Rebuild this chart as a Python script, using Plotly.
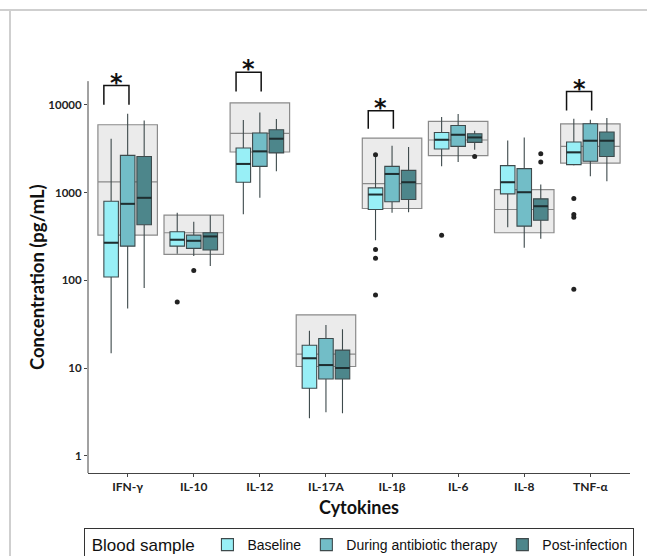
import math
import plotly.graph_objects as go

categories = ["IFN-γ", "IL-10", "IL-12", "IL-17A", "IL-1β", "IL-6", "IL-8", "TNF-α"]
groups = ["Baseline", "During antibiotic therapy", "Post-infection"]

# Baseline
base_lo = [14.7, 201, 567, 2.68, 286, 1990, 403, 2030]
base_q1 = [109, 245, 1310, 5.87, 641, 3140, 966, 2080]
base_med = [268, 290, 2120, 12.9, 949, 4000, 1310, 2870]
base_q3 = [796, 357, 3220, 18.2, 1130, 4840, 2030, 3770]
base_hi = [4110, 588, 6700, 26.5, 2650, 7250, 3930, 6930]

# During antibiotic therapy
dur_lo = [47.7, 189, 870, 3.14, 588, 2230, 235, 1530]
dur_q1 = [245, 231, 1990, 7.5, 784, 3360, 414, 2270]
dur_med = [744, 282, 2945, 10.8, 1630, 4560, 1008, 3900]
dur_q3 = [2655, 327, 4770, 21.7, 1990, 5820, 1875, 6080]
dur_hi = [7900, 464, 8170, 31, 3420, 7840, 4250, 6760]

# Post-infection
post_lo = [81.7, 145, 1746, 3.05, 597, 3080, 298, 1343]
post_q1 = [430, 221, 2830, 7.5, 832, 3730, 484, 2580]
post_med = [871, 316, 4110, 10, 1310, 4250, 698, 3900]
post_q3 = [2580, 348, 5200, 16, 1790, 4680, 848, 4900]
post_hi = [6630, 552, 6880, 27.7, 3300, 5070, 1233, 7060]

# Reference range (grey boxes)
ref_lo = [327, 197, 2900, 10.4, 658, 2630, 348, 2170]
ref_mid = [1324, 348, 4720, 14.4, 1265, 3970, 641, 3360]
ref_hi = [5930, 552, 10500, 40.4, 4180, 6460, 1080, 6080]

# Outliers
out_cat = ["IL-10", "IL-1β", "IL-1β", "IL-1β", "IL-1β", "IL-6", "TNF-α", "TNF-α", "TNF-α", "TNF-α",
           "IL-10", "IL-6", "IL-8", "IL-8"]
out_group = [0, 0, 0, 0, 0, 0, 0, 0, 0, 0, 1, 2, 2, 2]
out_val = [56.7, 2700, 225, 178, 68, 327, 855, 562, 524, 79, 129, 2580, 2775, 2230]

# Significance brackets
sig_cat = ["IFN-γ", "IL-12", "IL-1β", "TNF-α"]
sig_top = [16560, 23550, 8550, 14160]
sig_bottom = [10000, 14160, 5330, 8610]

colors = ["#98EFF6", "#72BDC7", "#4D868B"]
offsets = [-0.25, 0.0, 0.25]
box_w = 0.22
ref_w = 0.9

stats = [
    (base_lo, base_q1, base_med, base_q3, base_hi),
    (dur_lo, dur_q1, dur_med, dur_q3, dur_hi),
    (post_lo, post_q1, post_med, post_q3, post_hi),
]

idx = list(range(len(categories)))
fig = go.Figure()

# grey reference boxes
fig.add_trace(go.Box(
    x=idx, q1=ref_lo, median=ref_mid, q3=ref_hi, lowerfence=ref_lo, upperfence=ref_hi,
    width=ref_w, fillcolor="#EBEBEB", line=dict(color="#8A8A8A", width=1.2),
    whiskerwidth=0, boxpoints=False, showlegend=False, hoverinfo="skip",
))

for g, (lo, q1, med, q3, hi) in enumerate(stats):
    xs = [i + offsets[g] for i in idx]
    fig.add_trace(go.Box(
        x=xs, q1=q1, median=med, q3=q3, lowerfence=lo, upperfence=hi,
        width=box_w, fillcolor=colors[g], line=dict(color="#3E4A4C", width=1.1),
        whiskerwidth=0, boxpoints=False, name=groups[g], showlegend=True,
    ))
    # darker median lines
    mx, my = [], []
    for i in idx:
        mx += [xs[i] - box_w / 2, xs[i] + box_w / 2, None]
        my += [med[i], med[i], None]
    fig.add_trace(go.Scatter(x=mx, y=my, mode="lines", line=dict(color="#1E2E30", width=2),
                             showlegend=False, hoverinfo="skip"))

# outliers
fig.add_trace(go.Scatter(
    x=[categories.index(c) + offsets[g] for c, g in zip(out_cat, out_group)], y=out_val,
    mode="markers", marker=dict(color="#222222", size=5), showlegend=False, hoverinfo="skip",
))

# brackets
bx, by = [], []
for c, t, b in zip(sig_cat, sig_top, sig_bottom):
    i = categories.index(c)
    bx += [i - 0.36, i - 0.36, i + 0.02, i + 0.02, None]
    by += [b, t, t, b, None]
fig.add_trace(go.Scatter(x=bx, y=by, mode="lines", line=dict(color="#111111", width=1.5),
                         showlegend=False, hoverinfo="skip"))

annotations = []
for c, t in zip(sig_cat, sig_top):
    annotations.append(dict(
        x=categories.index(c) - 0.17, y=math.log10(t), xref="x", yref="y",
        text="*", showarrow=False, yanchor="middle", yshift=3,
        font=dict(family="DejaVu Sans", size=24, color="#111111", weight="bold"),
    ))

ymin, ymax = -0.197, 4.568
ytop_axis = 4.27

# y-axis title, centred on the visible axis line
annotations.append(dict(
    text="Concentration (pg/mL)", xref="paper", yref="paper",
    x=0, y=(ytop_axis - ymin) / (ymax - ymin) / 2, xanchor="right", yanchor="middle",
    xshift=-38, textangle=-90, showarrow=False,
    font=dict(family="Lato", size=18.5, color="#111111", weight="bold"),
))

fig.update_layout(
    width=647, height=556,
    margin=dict(l=88, r=17, t=55, b=83, autoexpand=False),
    paper_bgcolor="white", plot_bgcolor="white",
    showlegend=True,
    boxmode="overlay",
    annotations=annotations,
    xaxis=dict(
        range=[-0.6, 7.6], tickmode="array", tickvals=idx, ticktext=categories,
        showgrid=False, zeroline=False, showline=True, linecolor="#444444", linewidth=1,
        ticks="outside", ticklen=3, tickcolor="#444444",
        tickfont=dict(family="Lato", size=12, color="#222222", weight="bold"),
        title=dict(text="Cytokines", font=dict(family="Lato", size=18, color="#111111", weight="bold"),
                   standoff=7),
    ),
    yaxis=dict(
        type="log", range=[ymin, ymax], tickmode="array",
        tickvals=[1, 10, 100, 1000, 10000], ticktext=["1", "10", "100", "1000", "10000"],
        showgrid=False, zeroline=False, showline=False,
        ticks="outside", ticklen=3, tickcolor="#444444",
        tickfont=dict(family="Lato", size=11.5, color="#222222", weight="bold"),
    ),
    legend=dict(
        orientation="h", x=0.5, xanchor="center", y=-(528 - 473) / 418, yanchor="top",
        bordercolor="#333333", borderwidth=1,
        title=dict(text="&nbsp;Blood sample ", font=dict(family="Liberation Sans", size=17, color="#111111")),
        font=dict(family="Liberation Sans", size=14, color="#111111"),
        traceorder="normal",
    ),
    shapes=[
        dict(type="line", xref="paper", yref="y domain", x0=0, x1=0,
             y0=0, y1=(ytop_axis - ymin) / (ymax - ymin), line=dict(color="#444444", width=1)),
        dict(type="line", xref="paper", yref="paper", x0=-88 / 542, x1=1.05,
             y0=1 + 45 / 418, y1=1 + 45 / 418, line=dict(color="#CFCFCF", width=2)),
        dict(type="line", xref="paper", yref="paper", x0=-78 / 542, x1=-78 / 542,
             y0=1 + 45 / 418, y1=-0.3, line=dict(color="#CFCFCF", width=2)),
    ],
)

fig.write_html("out.html")
